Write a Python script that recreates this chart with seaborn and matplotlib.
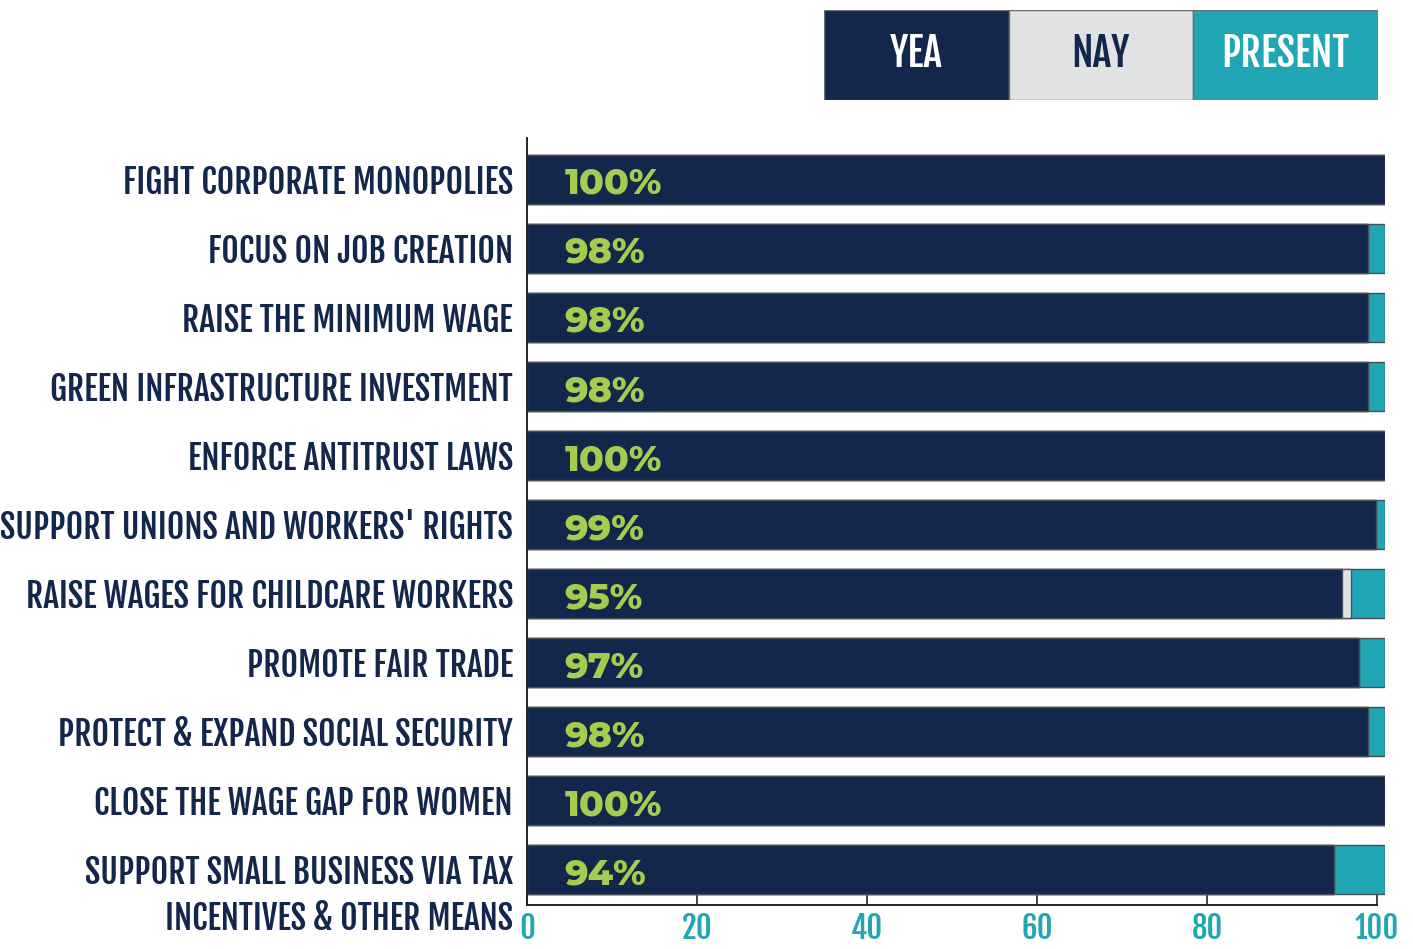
import matplotlib
matplotlib.use("Agg")
import matplotlib.pyplot as plt
import matplotlib.transforms as mtrans
from matplotlib import font_manager as fm
from matplotlib.font_manager import FontProperties
from matplotlib.textpath import TextPath
import seaborn as sns
import pandas as pd
from matplotlib.patches import Rectangle

categories = [
    "FIGHT CORPORATE MONOPOLIES",
    "FOCUS ON JOB CREATION",
    "RAISE THE MINIMUM WAGE",
    "GREEN INFRASTRUCTURE INVESTMENT",
    "ENFORCE ANTITRUST LAWS",
    "SUPPORT UNIONS AND WORKERS' RIGHTS",
    "RAISE WAGES FOR CHILDCARE WORKERS",
    "PROMOTE FAIR TRADE",
    "PROTECT & EXPAND SOCIAL SECURITY",
    "CLOSE THE WAGE GAP FOR WOMEN",
    "SUPPORT SMALL BUSINESS VIA TAX\nINCENTIVES & OTHER MEANS",
]
yea = [100, 98, 98, 98, 100, 99, 95, 97, 98, 100, 94]
nay = [0, 0, 0, 0, 0, 0, 1, 0, 0, 0, 0]
present = [0, 2, 2, 2, 0, 1, 4, 3, 2, 0, 6]
yea_labels = ["100%", "98%", "98%", "98%", "100%", "99%", "95%", "97%", "98%", "100%", "94%"]
legend_names = ["YEA", "NAY", "PRESENT"]
x_ticks = [0, 20, 40, 60, 80, 100]

NAVY = "#13264b"
GRAY = "#e1e2e4"
TEAL = "#20a6b4"
GREEN = "#a6cb4e"
EDGE = "#4a4f57"
DPI = 100

have = set(f.name for f in fm.fontManager.ttflist)
def fam(cands):
    for c in cands:
        if c in have:
            return c
    return "DejaVu Sans"

COND = fam(["Fjalla One", "Barlow Condensed", "Oswald"])

def file_font(patterns, fallback_weight="bold"):
    for p in patterns:
        for f in fm.fontManager.ttflist:
            if f.fname.split("/")[-1] == p:
                return FontProperties(fname=f.fname)
    return FontProperties(family="DejaVu Sans", weight=fallback_weight)

def size_for_cap(fp, cap_px, ch="H"):
    q = fp.copy()
    q.set_size(100)
    h = TextPath((0, 0), ch, prop=q).get_extents().height
    return cap_px * 72 / DPI / (h / 100)

fp_lab = FontProperties(family=COND, weight=600)
fp_pct = file_font(["MontserratAlternates-ExtraBold.ttf", "Poppins-ExtraBold.ttf", "Poppins-Bold.ttf"])
lab_size = size_for_cap(fp_lab, 28)
leg_size = size_for_cap(fp_lab, 33)
tick_size = size_for_cap(fp_lab, 26, "0")
pct_size = size_for_cap(fp_pct, 26.5, "0")

df = pd.DataFrame({"cat": categories, "yea": yea, "nay": nay, "present": present})
df["yea_nay"] = df["yea"] + df["nay"]
df["total"] = df["yea_nay"] + df["present"]

fig = plt.figure(figsize=(14.13, 9.49), dpi=DPI)
ax = fig.add_axes([527/1413, 1-905/949, (1385-527)/1413, (905-138)/949])

bw = 0.71
for col, color in [("total", TEAL), ("yea_nay", GRAY), ("yea", NAVY)]:
    sns.barplot(data=df, x=col, y="cat", orient="h", color=color, width=bw,
                edgecolor=EDGE, linewidth=1.0, ax=ax, saturation=1)

ax.set_xlim(0, 100)
ax.set_ylim(len(categories) - 1 + 0.51, -0.60)
ax.set_xlabel("")
ax.set_ylabel("")
ax.set_yticklabels([])
ax.tick_params(axis="y", length=0)

def off(dx_px, dy_px):
    return mtrans.ScaledTranslation(dx_px / DPI, dy_px / DPI, fig.dpi_scale_trans)

# percentage labels (baseline placed so ink is centred on the bar)
for i, lab in enumerate(yea_labels):
    ax.text(4.4, i, lab, color=GREEN, fontproperties=fp_pct, fontsize=pct_size,
            va="baseline", ha="left", transform=ax.transData + off(0, -14.5))

# category labels
ytr = ax.get_yaxis_transform()
for i, cat in enumerate(categories):
    for k, line in enumerate(cat.split("\n")):
        ax.text(0, i, line, color=NAVY, family=COND, fontweight=600, fontsize=lab_size,
                ha="right", va="baseline", transform=ytr + off(-14, -14.5 - 46 * k))

# x axis via secondary scale (tick scale differs slightly from bar scale)
k = 857 / 849
ax.set_xticks([])
sec = ax.secondary_xaxis("bottom", functions=(lambda x: x * k, lambda s: s / k))
sec.set_xticks(x_ticks)
sec.set_xticklabels([str(v) for v in x_ticks])
sec.tick_params(axis="x", direction="in", length=8, width=1.2, color="#222222",
                pad=5, labelcolor=TEAL, labelsize=tick_size)
for t in sec.get_xticklabels():
    t.set_family(COND)
    t.set_fontweight(600)
sec.spines["bottom"].set_bounds(0, 100)
sec.spines["bottom"].set_linewidth(1.4)
sec.spines["bottom"].set_color("#222222")

for s in ["top", "right", "bottom"]:
    ax.spines[s].set_visible(False)
ax.spines["left"].set_linewidth(1.4)
ax.spines["left"].set_color("#222222")

# legend box
lax = fig.add_axes([824/1413, 1-100/949, (1378-824)/1413, 90/949])
lax.set_xlim(0, 3)
lax.set_ylim(0, 1)
lax.axis("off")
fills = [NAVY, GRAY, TEAL]
txtc = ["white", NAVY, "white"]
for i, (name, fc, tc) in enumerate(zip(legend_names, fills, txtc)):
    lax.add_patch(Rectangle((i, 0), 1, 1, facecolor=fc, edgecolor="#6b6e73", linewidth=1.0))
    lax.text(i + 0.5, 0.367, name, color=tc, ha="center", va="baseline",
             family=COND, fontweight=600, fontsize=leg_size)

fig.savefig("out.png", dpi=DPI)
